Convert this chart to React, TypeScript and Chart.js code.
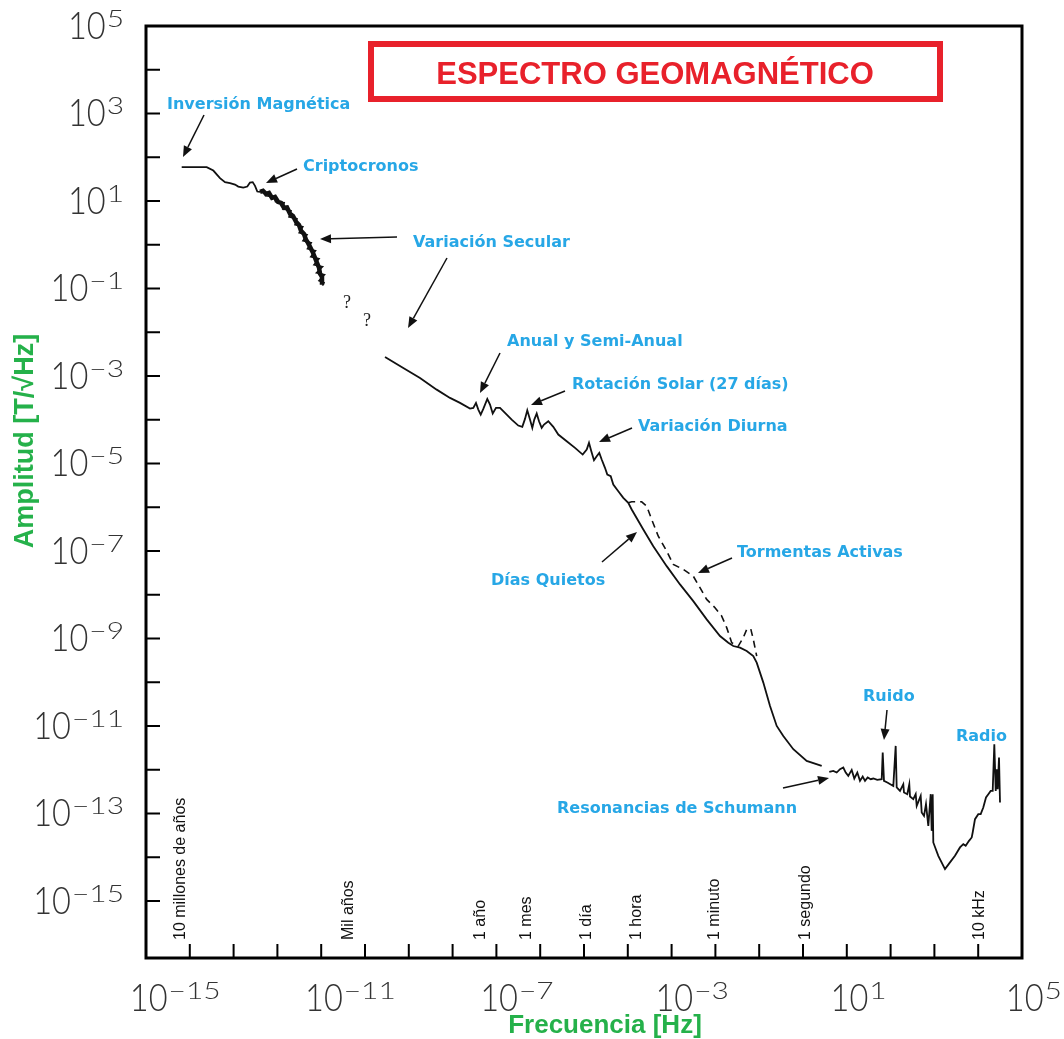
import { useEffect, useRef } from 'react';
import { Chart, registerables } from 'chart.js';

Chart.register(...registerables);

// ---- Data (log10 of frequency [Hz] and log10 of amplitude [T/sqrt(Hz)]) ----
const inversionLogF = [-15.185, -14.614, -14.463, -14.311, -14.196, -14.082, -13.968, -13.893, -13.779, -13.687, -13.626, -13.564, -13.511, -13.459, -13.397];
const inversionLogA = [1.774, 1.774, 1.696, 1.523, 1.432, 1.409, 1.377, 1.331, 1.308, 1.331, 1.422, 1.432, 1.347, 1.217, 1.21];

// secular variation: core trace and its noisy envelope
const secularCoreLogF = [-13.397, -13.329, -13.26, -13.192, -13.123, -13.055, -12.986, -12.918, -12.849, -12.781, -12.712, -12.644, -12.575, -12.507, -12.461, -12.393, -12.347, -12.301, -12.233, -12.187, -12.142, -12.096, -12.05, -12.027, -11.982, -11.982];
const secularCoreLogA = [1.21, 1.233, 1.164, 1.184, 1.073, 1.093, 0.982, 0.959, 0.845, 0.852, 0.708, 0.659, 0.525, 0.454, 0.32, 0.248, 0.114, 0.043, -0.091, -0.185, -0.297, -0.414, -0.525, -0.662, -0.733, -0.913];
const secularNoiseLogF = [-13.397, -13.317, -13.272, -13.082, -13.043, -12.845, -12.877, -12.689, -12.735, -12.553, -12.598, -12.42, -12.502, -12.324, -12.416, -12.228, -12.313, -12.13, -12.237, -12.05, -12.164, -11.97, -12.107, -11.925, -12.05, -11.936, -11.97];
const secularNoiseLogA = [1.21, 1.233, 1.119, 1.096, 0.982, 0.959, 0.822, 0.776, 0.639, 0.594, 0.457, 0.411, 0.274, 0.228, 0.091, 0.046, -0.091, -0.137, -0.274, -0.32, -0.457, -0.502, -0.639, -0.685, -0.822, -0.868, -0.936];

const quietLogF = [-10.543, -10.126, -9.744, -9.363, -9.059, -8.831, -8.603, -8.527, -8.466, -8.413, -8.358, -8.299, -8.208, -8.146, -8.084, -8.009, -7.918, -7.804, -7.651, -7.5, -7.409, -7.347, -7.295, -7.233, -7.18, -7.135, -7.08, -7.027, -6.966, -6.913, -6.815, -6.701, -6.587, -6.395, -6.205, -6.03, -5.938, -5.886, -5.833, -5.772, -5.71, -5.651, -5.596, -5.521, -5.468, -5.39, -5.331, -5.217, -5.103, -4.989, -4.911, -4.646, -4.418, -4.112, -3.808, -3.505, -3.199, -2.895, -2.705, -2.591, -2.438, -2.285, -2.135, -2.057, -1.906, -1.753, -1.6, -1.45, -1.221, -0.916, -0.573];
const quietLogA = [-2.564, -2.815, -3.043, -3.311, -3.5, -3.614, -3.744, -3.728, -3.614, -3.767, -3.881, -3.751, -3.523, -3.653, -3.858, -3.728, -3.728, -3.842, -3.995, -4.132, -4.162, -3.979, -3.783, -3.995, -4.185, -3.995, -3.858, -4.034, -4.185, -4.11, -4.034, -4.162, -4.338, -4.491, -4.642, -4.795, -4.68, -4.527, -4.719, -4.925, -4.833, -4.756, -4.909, -5.098, -5.251, -5.29, -5.479, -5.632, -5.783, -5.897, -6.05, -6.507, -6.888, -7.345, -7.763, -8.144, -8.562, -8.943, -9.094, -9.171, -9.208, -9.285, -9.4, -9.55, -10.007, -10.541, -10.998, -11.226, -11.53, -11.797, -11.911];

const stormLogF = [-4.989, -4.911, -4.683, -4.568, -4.454, -4.304, -4.112, -3.961, -3.733, -3.505, -3.352, -3.199, -3.009, -2.856, -2.742, -2.628, -2.477, -2.363, -2.285, -2.194, -2.135, -2.057];
const stormLogA = [-5.897, -5.874, -5.874, -5.975, -6.279, -6.66, -7.002, -7.306, -7.42, -7.573, -7.838, -8.105, -8.295, -8.486, -8.751, -9.094, -9.171, -8.979, -8.79, -8.774, -9.018, -9.4];

const schumannLogF = [-0.4, -0.308, -0.231, -0.155, -0.08, -0.025, 0.034, 0.112, 0.171, 0.24, 0.301, 0.363, 0.416, 0.477, 0.546, 0.605, 0.696, 0.797, 0.82, 0.849, 0.925, 1.062, 1.116, 1.139, 1.215, 1.29, 1.306, 1.381, 1.427, 1.443, 1.518, 1.573, 1.596, 1.687, 1.71, 1.763, 1.808, 1.861, 1.916, 1.938, 1.961, 1.975, 2.089, 2.242, 2.356, 2.47, 2.584, 2.66, 2.715, 2.79, 2.852, 2.874, 2.927, 3.002, 3.057, 3.116, 3.178, 3.231, 3.285, 3.331, 3.368, 3.4, 3.422, 3.445, 3.475, 3.498];
const schumannLogA = [-12.048, -12.025, -12.062, -11.986, -11.947, -12.062, -12.139, -12.002, -12.199, -12.062, -12.253, -12.153, -12.253, -12.176, -12.215, -12.199, -12.231, -12.215, -11.605, -12.253, -12.29, -12.368, -11.454, -12.404, -12.482, -12.329, -12.518, -12.557, -12.329, -12.61, -12.671, -12.557, -12.824, -12.596, -12.975, -13.053, -12.785, -13.281, -12.557, -13.395, -12.557, -13.66, -13.966, -14.269, -14.116, -13.966, -13.774, -13.699, -13.737, -13.623, -13.546, -13.432, -13.128, -13.014, -13.014, -12.861, -12.632, -12.557, -12.482, -12.482, -11.416, -12.482, -11.986, -12.443, -11.721, -12.747];

// ---- Axes ----
const xMinExp = -16;
const xMaxExp = 4;
const yMinExp = -16.28;
const yMaxExp = 5;
const xTickExps = [-15, -14, -13, -12, -11, -10, -9, -8, -7, -6, -5, -4, -3, -2, -1, 0, 1, 2, 3];
const yTickExps = [4, 3, 2, 1, 0, -1, -2, -3, -4, -5, -6, -7, -8, -9, -10, -11, -12, -13, -14, -15];
const xLabelExps = [-15, -11, -7, -3, 1, 5];
const yLabelExps = [5, 3, 1, -1, -3, -5, -7, -9, -11, -13, -15];

// ---- Period markers along the frequency axis ----
const periodLabels = ['10 millones de años', 'Mil años', '1 año', '1 mes', '1 día', '1 hora', '1 minuto', '1 segundo', '10 kHz'];
const periodLogF = [-15.2, -11.37, -8.35, -7.32, -5.93, -4.81, -3.01, -0.93, 3.04];

// ---- Annotations (text, left x, centre y) ----
const noteTexts = ['Inversión Magnética', 'Criptocronos', 'Variación Secular', 'Anual y Semi-Anual', 'Rotación Solar (27 días)', 'Variación Diurna', 'Tormentas Activas', 'Días Quietos', 'Ruido', 'Radio', 'Resonancias de Schumann'];
const notePos: number[][] = [[167, 103], [303, 165], [413, 241], [507, 340], [572, 383], [638, 425], [737, 551], [491, 579], [863, 695], [956, 735], [557, 807]];
const arrowPos: number[][] = [
  [204, 115, 183, 157], [297, 169, 266, 183], [397, 237, 320, 239], [447, 258, 408, 328],
  [500, 353, 480, 393], [565, 391, 531, 405], [632, 428, 599, 442], [602, 562, 637, 532],
  [732, 558, 698, 573], [887, 710, 884, 740], [783, 788, 829, 778],
];

const toPoints = (lf: number[], la: number[]) => lf.map((f, i) => ({ x: Math.pow(10, f), y: Math.pow(10, la[i]) }));

const BLUE = '#27a7e6';
const GREEN = '#25b14a';
const RED = '#e8212b';
const NUM = '"Liberation Sans", Arial, sans-serif';
const TICKFONT = 'Lato, "Liberation Sans", Arial, sans-serif';

function drawPow(ctx: CanvasRenderingContext2D, exp: number, x: number, baseline: number, align: 'left' | 'right') {
  const base = '10';
  const sup = exp < 0 ? '\u2212' + Math.abs(exp) : String(exp);
  const bs = 0.88;
  const ss = 1.3;
  const bf = `300 37px ${TICKFONT}`;
  const sf = `300 23px ${TICKFONT}`;
  ctx.font = bf;
  const wb = ctx.measureText(base).width * bs;
  ctx.font = sf;
  const ws = ctx.measureText(sup).width * ss;
  const total = wb + 1 + ws;
  const left = align === 'right' ? x - total : x;
  ctx.fillStyle = '#333';
  ctx.textAlign = 'left';
  ctx.textBaseline = 'alphabetic';
  ctx.save();
  ctx.translate(left, baseline);
  ctx.scale(bs, 1);
  ctx.font = bf;
  ctx.fillText(base, 0, 0);
  ctx.restore();
  ctx.save();
  ctx.translate(left + wb + 1, baseline - 12);
  ctx.scale(ss, 1);
  ctx.font = sf;
  ctx.fillText(sup, 0, 0);
  ctx.restore();
}

function drawArrow(ctx: CanvasRenderingContext2D, x1: number, y1: number, x2: number, y2: number) {
  const ang = Math.atan2(y2 - y1, x2 - x1);
  const len = 11;
  const hw = 4.5;
  const bx = x2 - len * Math.cos(ang);
  const by = y2 - len * Math.sin(ang);
  ctx.strokeStyle = '#111';
  ctx.fillStyle = '#111';
  ctx.lineWidth = 1.5;
  ctx.beginPath();
  ctx.moveTo(x1, y1);
  ctx.lineTo(bx, by);
  ctx.stroke();
  ctx.beginPath();
  ctx.moveTo(x2, y2);
  ctx.lineTo(bx + hw * Math.sin(ang), by - hw * Math.cos(ang));
  ctx.lineTo(bx - hw * Math.sin(ang), by + hw * Math.cos(ang));
  ctx.closePath();
  ctx.fill();
}

const decorPlugin = {
  id: 'geoDecor',
  afterDatasetsDraw(chart: any) {
    const ctx: CanvasRenderingContext2D = chart.ctx;
    const { left, top, right, bottom } = chart.chartArea;
    const xs = chart.scales.x;
    const ys = chart.scales.y;
    ctx.save();

    // frame
    ctx.strokeStyle = '#000';
    ctx.lineWidth = 3;
    ctx.strokeRect(left, top, right - left, bottom - top);

    // inward ticks
    ctx.lineWidth = 2;
    ctx.beginPath();
    xTickExps.forEach((e) => {
      const px = xs.getPixelForValue(Math.pow(10, e));
      ctx.moveTo(px, bottom);
      ctx.lineTo(px, bottom - 14);
    });
    yTickExps.forEach((e) => {
      const py = ys.getPixelForValue(Math.pow(10, e));
      ctx.moveTo(left, py);
      ctx.lineTo(left + 14, py);
    });
    ctx.stroke();

    // tick labels
    yLabelExps.forEach((e) => {
      const py = ys.getPixelForValue(Math.pow(10, e));
      drawPow(ctx, e, 124, py + 12.5, 'right');
    });
    xLabelExps.forEach((e) => {
      const px = xs.getPixelForValue(Math.pow(10, e));
      drawPow(ctx, e, px - 60, bottom + 53, 'left');
    });

    // axis titles
    ctx.fillStyle = GREEN;
    ctx.font = `bold 26px ${NUM}`;
    ctx.textAlign = 'center';
    ctx.textBaseline = 'alphabetic';
    ctx.fillText('Frecuencia [Hz]', 605, 1033);
    ctx.save();
    ctx.translate(33, 441);
    ctx.rotate(-Math.PI / 2);
    ctx.font = `bold 27px ${NUM}`;
    ctx.fillText('Amplitud [T/\u221AHz]', 0, 0);
    ctx.restore();

    // period labels (vertical)
    ctx.fillStyle = '#111';
    ctx.font = `16px ${NUM}`;
    periodLabels.forEach((t, i) => {
      const px = xs.getPixelForValue(Math.pow(10, periodLogF[i]));
      ctx.save();
      ctx.translate(px, 940);
      ctx.rotate(-Math.PI / 2);
      ctx.textAlign = 'left';
      ctx.textBaseline = 'middle';
      ctx.fillText(t, 0, 0);
      ctx.restore();
    });

    // title box
    ctx.strokeStyle = RED;
    ctx.lineWidth = 6;
    ctx.strokeRect(371, 44, 569, 55);
    ctx.fillStyle = RED;
    ctx.font = `bold 31px ${NUM}`;
    ctx.textAlign = 'center';
    ctx.textBaseline = 'alphabetic';
    ctx.fillText('ESPECTRO GEOMAGNÉTICO', 655, 84);

    // annotations
    ctx.fillStyle = BLUE;
    ctx.font = 'bold 16px "DejaVu Sans", Verdana, sans-serif';
    ctx.textAlign = 'left';
    ctx.textBaseline = 'alphabetic';
    noteTexts.forEach((t, i) => {
      ctx.fillText(t, notePos[i][0], notePos[i][1] + 6);
    });
    arrowPos.forEach((a) => drawArrow(ctx, a[0], a[1], a[2], a[3]));

    // question marks (gap in knowledge)
    ctx.fillStyle = '#222';
    ctx.font = '18px "Liberation Serif", "DejaVu Serif", serif';
    ctx.textAlign = 'center';
    ctx.fillText('?', 347, 308);
    ctx.fillText('?', 367, 326);

    ctx.restore();
  },
};

export default function App() {
  const canvasRef = useRef<HTMLCanvasElement | null>(null);

  useEffect(() => {
    if (!canvasRef.current) return;
    const line = { showLine: true, pointRadius: 0, borderColor: '#111', fill: false, tension: 0 };
    const chart = new Chart(canvasRef.current, {
      type: 'scatter',
      data: {
        datasets: [
          { ...line, label: 'Inversión / Criptocronos', data: toPoints(inversionLogF, inversionLogA), borderWidth: 1.8 },
          { ...line, label: 'Variación Secular', data: toPoints(secularCoreLogF, secularCoreLogA), borderWidth: 4.5 },
          { ...line, label: 'Variación Secular (ruido)', data: toPoints(secularNoiseLogF, secularNoiseLogA), borderWidth: 1.6 },
          { ...line, label: 'Días Quietos', data: toPoints(quietLogF, quietLogA), borderWidth: 1.8 },
          { ...line, label: 'Tormentas Activas', data: toPoints(stormLogF, stormLogA), borderWidth: 1.6, borderDash: [7, 5] },
          { ...line, label: 'Schumann / Ruido / Radio', data: toPoints(schumannLogF, schumannLogA), borderWidth: 1.8 },
        ],
      },
      options: {
        responsive: false,
        animation: false,
        devicePixelRatio: 1,
        events: [],
        layout: { padding: { left: 146, top: 26, right: 42, bottom: 81 } },
        plugins: { legend: { display: false }, tooltip: { enabled: false }, title: { display: false } },
        scales: {
          x: { type: 'logarithmic', display: false, min: Math.pow(10, xMinExp), max: Math.pow(10, xMaxExp) },
          y: { type: 'logarithmic', display: false, min: Math.pow(10, yMinExp), max: Math.pow(10, yMaxExp) },
        },
      } as any,
      plugins: [decorPlugin],
    });
    return () => chart.destroy();
  }, []);

  return (
    <div style={{ position: 'absolute', left: 0, top: 0, width: 1064, height: 1039, background: '#fff' }}>
      <canvas ref={canvasRef} width={1064} height={1039} style={{ display: 'block', width: 1064, height: 1039 }} />
    </div>
  );
}
